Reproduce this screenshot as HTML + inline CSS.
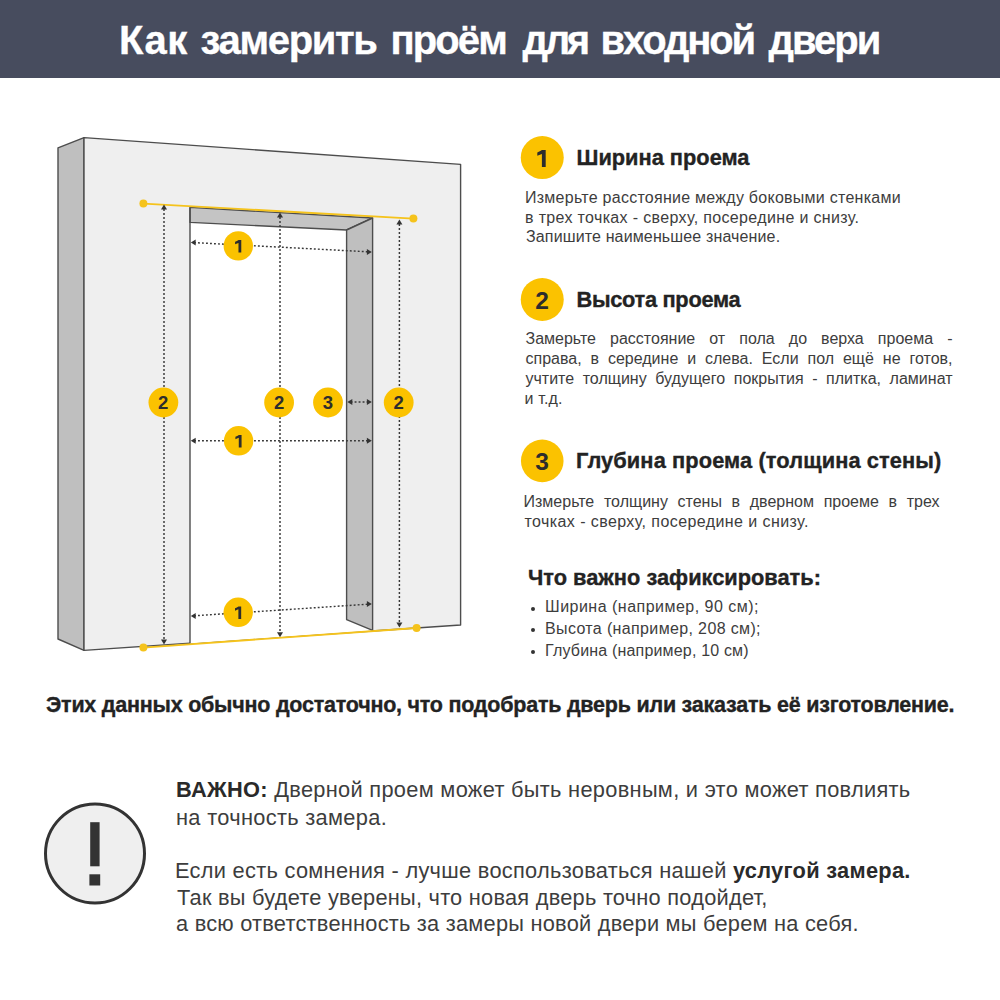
<!DOCTYPE html>
<html><head><meta charset="utf-8">
<style>
html,body{margin:0;padding:0;background:#fff;}
body{width:1000px;height:1000px;position:relative;overflow:hidden;font-family:"Liberation Sans",sans-serif;color:#333;}
.hdr{position:absolute;left:0;top:0;width:1000px;height:78px;background:#474c5e;}
.t{position:absolute;white-space:nowrap;line-height:1.117;}
.b{font-weight:bold;-webkit-text-stroke:0.35px currentColor;}
.j{text-align:justify;text-align-last:justify;white-space:normal;}
b{font-weight:bold;color:#2a2a2a;}
.dot{position:absolute;width:4.2px;height:4.2px;border-radius:50%;background:#333;}
svg{position:absolute;left:0;top:0;}
</style></head>
<body>
<div class="hdr"></div>
<svg width="1000" height="1000" viewBox="0 0 1000 1000">
  <!-- wall side face -->
  <polygon points="58,147.8 84,137.6 84,650.4 58,639" fill="#bfbfbf" stroke="#4d4d4d" stroke-width="1.4" stroke-linejoin="round"/>
  <!-- wall front face -->
  <polygon points="84,137.6 460.6,164.4 460.6,625 84,650.4" fill="#efefef" stroke="#4d4d4d" stroke-width="1.4" stroke-linejoin="round"/>
  <!-- opening white -->
  <polygon points="190,207.4 372.6,218 372.6,630.4 190,643.6" fill="#ffffff"/>
  <!-- lintel -->
  <polygon points="190,207.4 372.6,218 346.6,230 190,222.4" fill="#c4c4c4" stroke="#4d4d4d" stroke-width="1.4" stroke-linejoin="round"/>
  <!-- right jamb -->
  <polygon points="372.6,218 372.6,630.4 346.6,619.6 346.6,230" fill="#bfbfbf" stroke="#4d4d4d" stroke-width="1.4" stroke-linejoin="round"/>
  <!-- opening left edge -->
  <line x1="190" y1="207.4" x2="190" y2="643.6" stroke="#4d4d4d" stroke-width="1.4"/>

  <!-- yellow lines -->
  <line x1="143.4" y1="203.6" x2="413.4" y2="218.6" stroke="#f5c31c" stroke-width="1.9"/>
  <circle cx="143.4" cy="203.6" r="4" fill="#f5c31c"/>
  <circle cx="413.4" cy="218.6" r="4" fill="#f5c31c"/>
  <line x1="143.4" y1="647.6" x2="416.6" y2="628" stroke="#f5c31c" stroke-width="1.9"/>
  <circle cx="143.4" cy="647.6" r="4" fill="#f5c31c"/>
  <circle cx="416.6" cy="628" r="4" fill="#f5c31c"/>

  <!-- dotted arrows -->
  <g stroke="#383838" stroke-width="1.45" stroke-dasharray="1.9 2.1" fill="none">
    <line x1="164" y1="209" x2="164" y2="640"/>
    <line x1="280" y1="217" x2="280" y2="633"/>
    <line x1="399.4" y1="224" x2="399.4" y2="623"/>
    <line x1="194" y1="242.6" x2="368" y2="251.8"/>
    <line x1="194" y1="440.8" x2="368" y2="440.8"/>
    <line x1="194" y1="615.8" x2="368" y2="604.2"/>
    <line x1="350.6" y1="402" x2="368.6" y2="402"/>
  </g>
  <g fill="#333">
    <polygon points="164,204.6 161,209.5 167,209.5"/>
    <polygon points="164,644.4 161,639.5 167,639.5"/>
    <polygon points="280,212.6 277,217.5 283,217.5"/>
    <polygon points="280,637.2 277,632.3 283,632.3"/>
    <polygon points="399.4,219.6 396.4,224.5 402.4,224.5"/>
    <polygon points="399.4,627.4 396.4,622.5 402.4,622.5"/>
  </g>
  <g fill="#333">
    <polygon points="190.8,242.4 195.7,239.4 195.7,245.4"/>
    <polygon points="371.8,252 366.9,249 366.9,255"/>
    <polygon points="190.8,440.8 195.7,437.8 195.7,443.8"/>
    <polygon points="371.8,440.8 366.9,437.8 366.9,443.8"/>
    <polygon points="190.8,616 195.7,613 195.7,619"/>
    <polygon points="371.8,604 366.9,601 366.9,607"/>
    <polygon points="347.4,402 352.3,399 352.3,405"/>
    <polygon points="371.8,402 366.9,399 366.9,405"/>
  </g>

  <!-- diagram badges -->
  <g fill="#fbc200">
    <circle cx="238.3" cy="245.9" r="14.7"/>
    <circle cx="238.6" cy="440.8" r="14.7"/>
    <circle cx="238.2" cy="612.3" r="14.7"/>
    <circle cx="163.4" cy="402.5" r="14.9"/>
    <circle cx="279.1" cy="402.5" r="14.9"/>
    <circle cx="328" cy="402.5" r="14.9"/>
    <circle cx="398.7" cy="402.5" r="14.9"/>
    <circle cx="542.25" cy="157.6" r="21.5"/>
    <circle cx="542.25" cy="299.5" r="21.5"/>
    <circle cx="542.25" cy="460.9" r="21.3"/>
  </g>
  <g fill="#2d2d2d">
    <path transform="translate(235.1,240) scale(0.735)" d="M 4.7 0 L 8.4 0 L 8.4 17 L 4.6 17 L 4.6 4 L 0 5.8 L 0 2.4 Q 2.6 1.3 4.7 0 Z"/>
    <path transform="translate(235.4,434.9) scale(0.735)" d="M 4.7 0 L 8.4 0 L 8.4 17 L 4.6 17 L 4.6 4 L 0 5.8 L 0 2.4 Q 2.6 1.3 4.7 0 Z"/>
    <path transform="translate(235.0,606.4) scale(0.735)" d="M 4.7 0 L 8.4 0 L 8.4 17 L 4.6 17 L 4.6 4 L 0 5.8 L 0 2.4 Q 2.6 1.3 4.7 0 Z"/>
    <path transform="translate(537.3,150)" d="M 4.7 0 L 8.4 0 L 8.4 17 L 4.6 17 L 4.6 4 L 0 5.8 L 0 2.4 Q 2.6 1.3 4.7 0 Z"/>
  </g>
  <g font-family="Liberation Sans" font-weight="bold" font-size="18.5" fill="#2d2d2d" text-anchor="middle">
    <text id="d2a" x="163.1" y="409.2">2</text>
    <text id="d2b" x="279.1" y="409.2">2</text>
    <text id="d3" x="328" y="409.2">3</text>
    <text id="d2c" x="398.7" y="409.2">2</text>
  </g>
  <g font-family="Liberation Sans" font-weight="bold" font-size="24.5" fill="#2d2d2d" text-anchor="middle">
    <text id="s2n" x="542.1" y="308.7">2</text>
    <text id="s3n" x="542.1" y="470">3</text>
  </g>

  <!-- warning icon -->
  <circle cx="95" cy="853.5" r="49.5" fill="#efefef" stroke="#333" stroke-width="3"/>
  <rect x="90.2" y="822.2" width="9.4" height="44.1" fill="#333"/>
  <rect x="89.4" y="874.3" width="10.8" height="11.2" fill="#333"/>
</svg>

<div class="t b" id="tw1" style="left:119.00px;top:17.60px;font-size:40px;color:#fff;letter-spacing:0.600px;">Как</div>
<div class="t b" id="tw2" style="left:200.50px;top:17.60px;font-size:40px;color:#fff;letter-spacing:-1.328px;">замерить</div>
<div class="t b" id="tw3" style="left:390.50px;top:17.60px;font-size:40px;color:#fff;letter-spacing:-1.900px;">проём</div>
<div class="t b" id="tw4" style="left:522.60px;top:17.60px;font-size:40px;color:#fff;letter-spacing:-3.300px;">для</div>
<div class="t b" id="tw5" style="left:600.60px;top:17.60px;font-size:40px;color:#fff;letter-spacing:-2.134px;">входной</div>
<div class="t b" id="tw6" style="left:768.50px;top:17.60px;font-size:40px;color:#fff;letter-spacing:-1.950px;">двери</div>
<div class="t b" id="h1" style="left:576.50px;top:145.87px;font-size:21.8px;color:#232323;">Ширина проема</div>
<div class="t" id="s1a" style="left:525.00px;top:188.82px;font-size:16px;color:#3d3d3d;letter-spacing:0.262px;">Измерьте расстояние между боковыми стенками</div>
<div class="t" id="s1b" style="left:525.00px;top:208.82px;font-size:16px;color:#3d3d3d;letter-spacing:0.348px;">в трех точках - сверху, посередине и снизу.</div>
<div class="t" id="s1c" style="left:526.00px;top:228.42px;font-size:16px;color:#3d3d3d;letter-spacing:0.135px;">Запишите наименьшее значение.</div>
<div class="t b" id="h2" style="left:576.50px;top:287.87px;font-size:21.8px;color:#232323;letter-spacing:-0.300px;">Высота проема</div>
<div class="t j" id="s2a" style="left:525.50px;top:329.62px;font-size:16px;color:#3d3d3d;width:427px;">Замерьте расстояние от пола до верха проема -</div>
<div class="t j" id="s2b" style="left:525.50px;top:349.62px;font-size:16px;color:#3d3d3d;width:427px;">справа, в середине и слева. Если пол ещё не готов,</div>
<div class="t j" id="s2c" style="left:525.50px;top:369.62px;font-size:16px;color:#3d3d3d;width:427px;">учтите толщину будущего покрытия - плитка, ламинат</div>
<div class="t" id="s2d" style="left:524.50px;top:389.92px;font-size:16px;color:#3d3d3d;letter-spacing:0.160px;">и т.д.</div>
<div class="t b" id="h3" style="left:576.00px;top:448.87px;font-size:21.8px;color:#232323;letter-spacing:0.110px;">Глубина проема (толщина стены)</div>
<div class="t j" id="s3a" style="left:523.50px;top:492.52px;font-size:16px;color:#3d3d3d;width:416px;">Измерьте толщину стены в дверном проеме в трех</div>
<div class="t" id="s3b" style="left:524.50px;top:512.72px;font-size:16px;color:#3d3d3d;letter-spacing:0.417px;">точках - сверху, посередине и снизу.</div>
<div class="t b" id="h4" style="left:528.00px;top:565.97px;font-size:21.8px;color:#232323;letter-spacing:0.008px;">Что важно зафиксировать:</div>
<div class="t" id="b1" style="left:545.00px;top:598.22px;font-size:16px;color:#3d3d3d;letter-spacing:0.484px;">Ширина (например, 90 см);</div>
<div class="t" id="b2" style="left:545.00px;top:620.32px;font-size:16px;color:#3d3d3d;letter-spacing:0.360px;">Высота (например, 208 см);</div>
<div class="t" id="b3" style="left:545.00px;top:641.72px;font-size:16px;color:#3d3d3d;letter-spacing:0.175px;">Глубина (например, 10 см)</div>
<div class="t b" id="sum" style="left:46.00px;top:693.14px;font-size:21.5px;color:#232323;letter-spacing:-0.225px;">Этих данных обычно достаточно, что подобрать дверь или заказать её изготовление.</div>
<div class="t" id="w1" style="left:176.00px;top:777.87px;font-size:21.8px;color:#3d3d3d;letter-spacing:0.299px;"><b>ВАЖНО:</b> Дверной проем может быть неровным, и это может повлиять</div>
<div class="t" id="w2" style="left:176.00px;top:805.77px;font-size:21.8px;color:#3d3d3d;letter-spacing:0.323px;">на точность замера.</div>
<div class="t" id="w3" style="left:175.00px;top:858.77px;font-size:21.8px;color:#3d3d3d;letter-spacing:0.289px;">Если есть сомнения - лучше воспользоваться нашей <b>услугой замера.</b></div>
<div class="t" id="w4" style="left:177.00px;top:885.57px;font-size:21.8px;color:#3d3d3d;letter-spacing:0.242px;">Так вы будете уверены, что новая дверь точно подойдет,</div>
<div class="t" id="w5" style="left:176.00px;top:911.87px;font-size:21.8px;color:#3d3d3d;letter-spacing:0.233px;">а всю ответственность за замеры новой двери мы берем на себя.</div>
<div class="dot" style="left:531px;top:606.5px;"></div><div class="dot" style="left:531px;top:628.1px;"></div><div class="dot" style="left:531px;top:649.9px;"></div>
</body></html>
